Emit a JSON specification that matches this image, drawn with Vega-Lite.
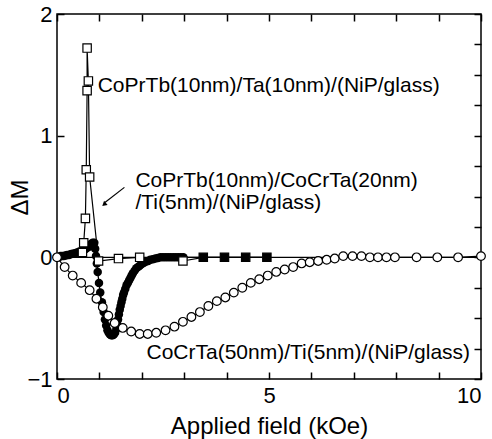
{
  "$schema": "https://vega.github.io/schema/vega-lite/v6.json",
  "width": 424,
  "height": 365,
  "autosize": "none",
  "padding": {"left": 57, "top": 14, "right": 11, "bottom": 60},
  "background": "white",
  "data": {"values": [{}]},
  "config": {
    "font": "Liberation Sans",
    "view": {"stroke": "black", "strokeWidth": 1.5},
    "axis": {
      "grid": false,
      "domain": false,
      "ticks": true,
      "zindex": 1,
      "tickColor": "black",
      "tickWidth": 1.5,
      "tickSize": 7,
      "offset": -7,
      "labelColor": "black",
      "labelFont": "Liberation Sans",
      "labelFontSize": 22,
      "titleColor": "black",
      "titleFont": "Liberation Sans",
      "titleFontSize": 24,
      "titleFontWeight": "normal"
    }
  },
  "datasets": {
    "taLayer": [
      {"i": 1, "H": 0.60, "M": 0.04},
      {"i": 2, "H": 0.63, "M": 0.12},
      {"i": 3, "H": 0.67, "M": 0.32},
      {"i": 4, "H": 0.69, "M": 0.72},
      {"i": 5, "H": 0.71, "M": 1.37},
      {"i": 6, "H": 0.71, "M": 1.72},
      {"i": 7, "H": 0.74, "M": 1.45},
      {"i": 8, "H": 0.77, "M": 0.66},
      {"i": 9, "H": 0.98, "M": -0.03},
      {"i": 10, "H": 1.45, "M": -0.01},
      {"i": 11, "H": 1.95, "M": 0.0},
      {"i": 12, "H": 2.97, "M": -0.03},
      {"i": 13, "H": 3.45, "M": 0.0},
      {"i": 14, "H": 3.95, "M": 0.0},
      {"i": 15, "H": 4.45, "M": 0.0},
      {"i": 16, "H": 4.95, "M": 0.0}
    ],
    "cocrta20": [
      {"i": 1, "H": 0.00, "M": 0.00},
      {"i": 2, "H": 0.04, "M": 0.00},
      {"i": 3, "H": 0.08, "M": 0.01},
      {"i": 4, "H": 0.12, "M": 0.01},
      {"i": 5, "H": 0.16, "M": 0.01},
      {"i": 6, "H": 0.20, "M": 0.015},
      {"i": 7, "H": 0.24, "M": 0.02},
      {"i": 8, "H": 0.28, "M": 0.02},
      {"i": 9, "H": 0.32, "M": 0.025},
      {"i": 10, "H": 0.36, "M": 0.03},
      {"i": 11, "H": 0.40, "M": 0.03},
      {"i": 12, "H": 0.44, "M": 0.035},
      {"i": 13, "H": 0.48, "M": 0.04},
      {"i": 14, "H": 0.52, "M": 0.045},
      {"i": 15, "H": 0.56, "M": 0.05},
      {"i": 16, "H": 0.60, "M": 0.055},
      {"i": 17, "H": 0.64, "M": 0.06},
      {"i": 18, "H": 0.68, "M": 0.07},
      {"i": 19, "H": 0.72, "M": 0.08},
      {"i": 20, "H": 0.76, "M": 0.09},
      {"i": 21, "H": 0.80, "M": 0.11},
      {"i": 22, "H": 0.84, "M": 0.12},
      {"i": 23, "H": 0.88, "M": 0.12},
      {"i": 24, "H": 0.90, "M": 0.07},
      {"i": 25, "H": 0.92, "M": 0.01},
      {"i": 26, "H": 0.94, "M": -0.05},
      {"i": 27, "H": 0.96, "M": -0.12},
      {"i": 28, "H": 0.99, "M": -0.21},
      {"i": 29, "H": 1.02, "M": -0.29},
      {"i": 30, "H": 1.06, "M": -0.37},
      {"i": 31, "H": 1.10, "M": -0.45},
      {"i": 32, "H": 1.13, "M": -0.51},
      {"i": 33, "H": 1.16, "M": -0.56},
      {"i": 34, "H": 1.19, "M": -0.60},
      {"i": 35, "H": 1.22, "M": -0.62},
      {"i": 36, "H": 1.25, "M": -0.635},
      {"i": 37, "H": 1.28, "M": -0.64},
      {"i": 38, "H": 1.31, "M": -0.64},
      {"i": 39, "H": 1.34, "M": -0.635},
      {"i": 40, "H": 1.37, "M": -0.62},
      {"i": 41, "H": 1.40, "M": -0.59},
      {"i": 42, "H": 1.42, "M": -0.55},
      {"i": 43, "H": 1.44, "M": -0.51},
      {"i": 44, "H": 1.46, "M": -0.47},
      {"i": 45, "H": 1.48, "M": -0.43},
      {"i": 46, "H": 1.50, "M": -0.40},
      {"i": 47, "H": 1.52, "M": -0.37},
      {"i": 48, "H": 1.54, "M": -0.34},
      {"i": 49, "H": 1.56, "M": -0.31},
      {"i": 50, "H": 1.58, "M": -0.29},
      {"i": 51, "H": 1.61, "M": -0.26},
      {"i": 52, "H": 1.64, "M": -0.23},
      {"i": 53, "H": 1.67, "M": -0.21},
      {"i": 54, "H": 1.70, "M": -0.19},
      {"i": 55, "H": 1.73, "M": -0.17},
      {"i": 56, "H": 1.76, "M": -0.15},
      {"i": 57, "H": 1.79, "M": -0.13},
      {"i": 58, "H": 1.83, "M": -0.11},
      {"i": 59, "H": 1.87, "M": -0.09},
      {"i": 60, "H": 1.91, "M": -0.08},
      {"i": 61, "H": 1.95, "M": -0.07},
      {"i": 62, "H": 2.00, "M": -0.055},
      {"i": 63, "H": 2.05, "M": -0.045},
      {"i": 64, "H": 2.10, "M": -0.035},
      {"i": 65, "H": 2.15, "M": -0.03},
      {"i": 66, "H": 2.20, "M": -0.02},
      {"i": 67, "H": 2.26, "M": -0.015},
      {"i": 68, "H": 2.32, "M": -0.01},
      {"i": 69, "H": 2.38, "M": -0.005},
      {"i": 70, "H": 2.44, "M": 0.00},
      {"i": 71, "H": 2.50, "M": 0.00},
      {"i": 72, "H": 2.56, "M": 0.00},
      {"i": 73, "H": 2.62, "M": 0.00},
      {"i": 74, "H": 2.68, "M": 0.00},
      {"i": 75, "H": 2.74, "M": 0.00},
      {"i": 76, "H": 2.80, "M": 0.00},
      {"i": 77, "H": 2.86, "M": 0.00},
      {"i": 78, "H": 2.92, "M": 0.00},
      {"i": 79, "H": 2.98, "M": 0.00},
      {"i": 80, "H": 3.45, "M": 0.00},
      {"i": 81, "H": 3.95, "M": 0.00},
      {"i": 82, "H": 4.45, "M": 0.00},
      {"i": 83, "H": 4.95, "M": 0.00}
    ],
    "cocrta50": [
      {"i": 1, "H": 0.00, "M": 0.00},
      {"i": 2, "H": 0.18, "M": -0.08},
      {"i": 3, "H": 0.37, "M": -0.15},
      {"i": 4, "H": 0.57, "M": -0.21},
      {"i": 5, "H": 0.77, "M": -0.27},
      {"i": 6, "H": 0.93, "M": -0.34},
      {"i": 7, "H": 1.08, "M": -0.41},
      {"i": 8, "H": 1.21, "M": -0.48},
      {"i": 9, "H": 1.36, "M": -0.54},
      {"i": 10, "H": 1.55, "M": -0.58},
      {"i": 11, "H": 1.75, "M": -0.61},
      {"i": 12, "H": 1.95, "M": -0.63},
      {"i": 13, "H": 2.14, "M": -0.63},
      {"i": 14, "H": 2.34, "M": -0.62},
      {"i": 15, "H": 2.56, "M": -0.60},
      {"i": 16, "H": 2.77, "M": -0.57},
      {"i": 17, "H": 2.97, "M": -0.53},
      {"i": 18, "H": 3.17, "M": -0.49},
      {"i": 19, "H": 3.37, "M": -0.45},
      {"i": 20, "H": 3.57, "M": -0.40},
      {"i": 21, "H": 3.77, "M": -0.36},
      {"i": 22, "H": 3.97, "M": -0.33},
      {"i": 23, "H": 4.17, "M": -0.29},
      {"i": 24, "H": 4.37, "M": -0.25},
      {"i": 25, "H": 4.57, "M": -0.21},
      {"i": 26, "H": 4.77, "M": -0.18},
      {"i": 27, "H": 4.97, "M": -0.15},
      {"i": 28, "H": 5.17, "M": -0.12},
      {"i": 29, "H": 5.37, "M": -0.10},
      {"i": 30, "H": 5.57, "M": -0.08},
      {"i": 31, "H": 5.77, "M": -0.05},
      {"i": 32, "H": 5.96, "M": -0.04},
      {"i": 33, "H": 6.16, "M": -0.03},
      {"i": 34, "H": 6.36, "M": -0.02},
      {"i": 35, "H": 6.55, "M": -0.01},
      {"i": 36, "H": 6.75, "M": 0.01},
      {"i": 37, "H": 6.97, "M": 0.01},
      {"i": 38, "H": 7.18, "M": 0.01},
      {"i": 39, "H": 7.38, "M": 0.00},
      {"i": 40, "H": 7.57, "M": 0.00},
      {"i": 41, "H": 7.77, "M": 0.00},
      {"i": 42, "H": 7.97, "M": 0.00},
      {"i": 43, "H": 8.48, "M": 0.00},
      {"i": 44, "H": 8.97, "M": 0.00},
      {"i": 45, "H": 9.46, "M": 0.00},
      {"i": 46, "H": 10.00, "M": 0.01}
    ]
  },
  "resolve": {"axis": {"x": "independent", "y": "independent"}},
  "layer": [
    {
      "mark": {"type": "rule", "color": "black", "strokeWidth": 1.1},
      "encoding": {
        "y": {"datum": 0, "type": "quantitative", "scale": {"domain": [-1, 2], "nice": false}, "axis": {"orient": "left", "values": [-1, -0.75, -0.5, -0.25, 0, 0.25, 0.5, 0.75, 1, 1.25, 1.5, 1.75, 2], "format": "d", "labelExpr": "datum.value % 1 === 0 ? datum.label : ''", "labelPadding": 5, "title": "ΔM", "titleX": -44, "titleY": 183, "titleAngle": -90, "titleAlign": "center", "titleBaseline": "middle"}}
      }
    },
    {
      "data": {"name": "taLayer"},
      "mark": {"type": "line", "color": "black", "strokeWidth": 1.2},
      "encoding": {
        "x": {"field": "H", "type": "quantitative", "scale": {"domain": [0, 10], "nice": false}, "axis": {"orient": "bottom", "values": [0, 1, 2, 3, 4, 5, 6, 7, 8, 9, 10], "format": "d", "labelExpr": "datum.value % 5 === 0 ? datum.label : ''", "labelPadding": 6, "title": "Applied field (kOe)", "titlePadding": 8}},
        "y": {"field": "M", "type": "quantitative", "scale": {"domain": [-1, 2], "nice": false}, "axis": {"orient": "right", "values": [-1, -0.75, -0.5, -0.25, 0, 0.25, 0.5, 0.75, 1, 1.25, 1.5, 1.75, 2], "labels": false, "title": null}},
        "order": {"field": "i", "type": "quantitative"}
      }
    },
    {
      "data": {"name": "cocrta20"},
      "mark": {"type": "line", "color": "black", "strokeWidth": 1.2},
      "encoding": {
        "x": {"field": "H", "type": "quantitative", "scale": {"domain": [0, 10], "nice": false}, "axis": {"orient": "top", "values": [0, 1, 2, 3, 4, 5, 6, 7, 8, 9, 10], "labels": false, "title": null}},
        "y": {"field": "M", "type": "quantitative", "scale": {"domain": [-1, 2], "nice": false}, "axis": null},
        "order": {"field": "i", "type": "quantitative"}
      }
    },
    {
      "data": {"name": "cocrta20"},
      "mark": {"type": "point", "shape": "circle", "filled": true, "color": "black", "size": 72, "opacity": 1},
      "encoding": {
        "x": {"field": "H", "type": "quantitative", "scale": {"domain": [0, 10], "nice": false}, "axis": null},
        "y": {"field": "M", "type": "quantitative", "scale": {"domain": [-1, 2], "nice": false}, "axis": null}
      }
    },
    {
      "data": {"name": "taLayer"},
      "mark": {"type": "point", "shape": "square", "filled": true, "fill": "white", "stroke": "black", "strokeWidth": 1.2, "size": 70, "opacity": 1},
      "encoding": {
        "x": {"field": "H", "type": "quantitative", "scale": {"domain": [0, 10], "nice": false}, "axis": null},
        "y": {"field": "M", "type": "quantitative", "scale": {"domain": [-1, 2], "nice": false}, "axis": null}
      }
    },
    {
      "data": {"name": "cocrta20"},
      "transform": [{"filter": "datum.H > 3.2"}],
      "mark": {"type": "point", "shape": "square", "filled": true, "color": "black", "size": 70, "opacity": 1},
      "encoding": {
        "x": {"field": "H", "type": "quantitative", "scale": {"domain": [0, 10], "nice": false}, "axis": null},
        "y": {"field": "M", "type": "quantitative", "scale": {"domain": [-1, 2], "nice": false}, "axis": null}
      }
    },
    {
      "data": {"name": "cocrta50"},
      "mark": {"type": "line", "color": "black", "strokeWidth": 1.2},
      "encoding": {
        "x": {"field": "H", "type": "quantitative", "scale": {"domain": [0, 10], "nice": false}, "axis": null},
        "y": {"field": "M", "type": "quantitative", "scale": {"domain": [-1, 2], "nice": false}, "axis": null},
        "order": {"field": "i", "type": "quantitative"}
      }
    },
    {
      "data": {"name": "cocrta50"},
      "mark": {"type": "point", "shape": "circle", "filled": true, "fill": "white", "stroke": "black", "strokeWidth": 1.2, "size": 75, "opacity": 1},
      "encoding": {
        "x": {"field": "H", "type": "quantitative", "scale": {"domain": [0, 10], "nice": false}, "axis": null},
        "y": {"field": "M", "type": "quantitative", "scale": {"domain": [-1, 2], "nice": false}, "axis": null}
      }
    },
    {
      "mark": {"type": "rule", "color": "black", "strokeWidth": 1.2},
      "encoding": {
        "x": {"datum": 1.59, "type": "quantitative", "scale": {"domain": [0, 10], "nice": false}, "axis": null},
        "y": {"datum": 0.575, "type": "quantitative", "scale": {"domain": [-1, 2], "nice": false}, "axis": null},
        "x2": {"datum": 1.13},
        "y2": {"datum": 0.45}
      }
    },
    {
      "mark": {"type": "point", "shape": "triangle-up", "filled": true, "color": "black", "size": 30, "angle": 229, "opacity": 1},
      "encoding": {
        "x": {"datum": 1.11, "type": "quantitative", "scale": {"domain": [0, 10], "nice": false}, "axis": null},
        "y": {"datum": 0.435, "type": "quantitative", "scale": {"domain": [-1, 2], "nice": false}, "axis": null}
      }
    },
    {
      "mark": {"type": "text", "align": "left", "baseline": "middle", "fontSize": 21, "font": "Liberation Sans", "color": "black"},
      "encoding": {
        "x": {"datum": 0.96, "type": "quantitative", "scale": {"domain": [0, 10], "nice": false}, "axis": null},
        "y": {"datum": 1.41, "type": "quantitative", "scale": {"domain": [-1, 2], "nice": false}, "axis": null},
        "text": {"value": "CoPrTb(10nm)/Ta(10nm)/(NiP/glass)"}
      }
    },
    {
      "mark": {"type": "text", "align": "left", "baseline": "middle", "fontSize": 21, "font": "Liberation Sans", "color": "black", "lineHeight": 22},
      "encoding": {
        "x": {"datum": 1.85, "type": "quantitative", "scale": {"domain": [0, 10], "nice": false}, "axis": null},
        "y": {"datum": 0.63, "type": "quantitative", "scale": {"domain": [-1, 2], "nice": false}, "axis": null},
        "text": {"value": ["CoPrTb(10nm)/CoCrTa(20nm)", "/Ti(5nm)/(NiP/glass)"]}
      }
    },
    {
      "mark": {"type": "text", "align": "left", "baseline": "middle", "fontSize": 21, "font": "Liberation Sans", "color": "black"},
      "encoding": {
        "x": {"datum": 2.11, "type": "quantitative", "scale": {"domain": [0, 10], "nice": false}, "axis": null},
        "y": {"datum": -0.79, "type": "quantitative", "scale": {"domain": [-1, 2], "nice": false}, "axis": null},
        "text": {"value": "CoCrTa(50nm)/Ti(5nm)/(NiP/glass)"}
      }
    }
  ]
}
